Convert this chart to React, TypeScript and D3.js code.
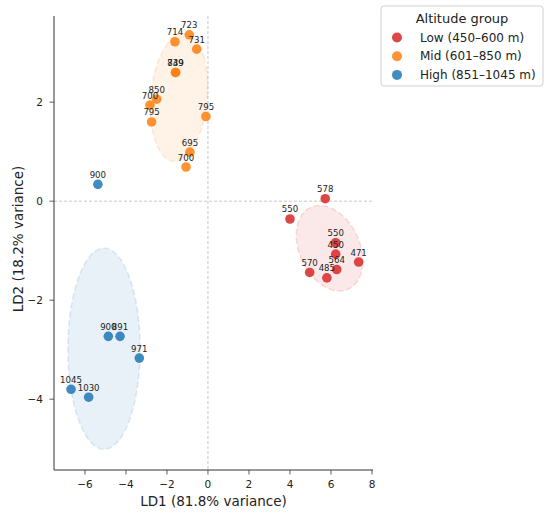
import * as d3 from "d3";

// LDA scores
const lowLD1 = [5.72, 4.0, 6.23, 6.23, 7.35, 6.28, 4.96, 5.8];
const lowLD2 = [0.05, -0.36, -0.84, -1.07, -1.23, -1.38, -1.44, -1.55];
const lowAlt = ["578", "550", "550", "450", "471", "564", "570", "485"];

const midLD1 = [-0.91, -1.61, -0.55, -1.58, -1.58, -2.5, -2.83, -2.75, -0.1, -0.88, -1.07];
const midLD2 = [3.36, 3.22, 3.07, 2.6, 2.6, 2.06, 1.94, 1.6, 1.71, 0.99, 0.69];
const midAlt = ["723", "714", "731", "839", "749", "850", "700", "795", "795", "695", "700"];

const highLD1 = [-5.37, -4.86, -4.29, -3.35, -6.68, -5.82];
const highLD2 = [0.34, -2.73, -2.73, -3.17, -3.8, -3.96];
const highAlt = ["900", "900", "891", "971", "1045", "1030"];

const groupNames = ["Low (450–600 m)", "Mid (601–850 m)", "High (851–1045 m)"];
const groupColors = ["#d62728", "#ff7f0e", "#1f77b4"];

// confidence ellipses: centre, semi-axes (data units), angle in degrees
const ellipseCx = [5.93, -1.41, -5.07];
const ellipseCy = [-0.95, 2.1, -2.98];
const ellipseA = [1.65, 1.46, 1.76];
const ellipseB = [0.81, 1.22, 2.03];
const ellipseAngle = [-12, 32, 0];

const xTicks = [-6, -4, -2, 0, 2, 4, 6, 8];
const yTicks = [-4, -2, 0, 2];

const W = 550;
const H = 517;
const m = { left: 54, right: 373, top: 16, bottom: 470 };
const font = "DejaVu Sans, sans-serif";

const fmt = (t: number) => (t < 0 ? `−${-t}` : `${t}`);

const App = () => {
  const x = d3.scaleLinear().domain([-7.51, 8.05]).range([m.left, m.right]);
  const y = d3.scaleLinear().domain([-5.43, 3.74]).range([m.bottom, m.top]);

  const groups = [
    { xs: lowLD1, ys: lowLD2, labels: lowAlt },
    { xs: midLD1, ys: midLD2, labels: midAlt },
    { xs: highLD1, ys: highLD2, labels: highAlt },
  ];

  const line = d3
    .line<[number, number]>()
    .x((d) => x(d[0]))
    .y((d) => y(d[1]))
    .curve(d3.curveLinearClosed);

  const ellipsePath = (i: number) => {
    const phi = (ellipseAngle[i] * Math.PI) / 180;
    const pts: [number, number][] = d3.range(0, 360, 3).map((deg) => {
      const t = (deg * Math.PI) / 180;
      const ax = ellipseA[i] * Math.cos(t);
      const by = ellipseB[i] * Math.sin(t);
      return [
        ellipseCx[i] + ax * Math.cos(phi) - by * Math.sin(phi),
        ellipseCy[i] + ax * Math.sin(phi) + by * Math.cos(phi),
      ];
    });
    return line(pts);
  };

  return (
    <svg
      width={W}
      height={H}
      style={{ position: "absolute", left: 0, top: 0, background: "white" }}
      fontFamily={font}
    >
      <defs>
        <clipPath id="plot">
          <rect x={m.left} y={m.top} width={m.right - m.left} height={m.bottom - m.top} />
        </clipPath>
      </defs>

      {/* zero reference lines */}
      <line x1={x(0)} x2={x(0)} y1={m.top} y2={m.bottom} stroke="#b8b8b8" strokeWidth={0.8} strokeDasharray="3,2" />
      <line x1={m.left} x2={m.right} y1={y(0)} y2={y(0)} stroke="#b8b8b8" strokeWidth={0.8} strokeDasharray="3,2" />

      {/* ellipses */}
      <g clipPath="url(#plot)">
        {groupColors.map((c, i) => (
          <path
            key={i}
            d={ellipsePath(i) || ""}
            fill={c}
            fillOpacity={0.1}
            stroke={c}
            strokeOpacity={0.15}
            strokeWidth={1.5}
            strokeDasharray="6,3"
          />
        ))}
      </g>

      {/* points */}
      {groups.map((g, gi) =>
        g.xs.map((v, i) => (
          <circle key={`${gi}-${i}`} cx={x(v)} cy={y(g.ys[i])} r={4.8} fill={groupColors[gi]} fillOpacity={0.85} />
        ))
      )}

      {/* altitude labels */}
      {groups.map((g, gi) =>
        g.xs.map((v, i) => (
          <text
            key={`t${gi}-${i}`}
            x={x(v)}
            y={y(g.ys[i]) - 6.5}
            textAnchor="middle"
            fontSize={8.6}
            fill="#222"
          >
            {g.labels[i]}
          </text>
        ))
      )}

      {/* axes */}
      <line x1={m.left} x2={m.left} y1={m.top} y2={m.bottom} stroke="#333" strokeWidth={1} />
      <line x1={m.left} x2={m.right} y1={m.bottom} y2={m.bottom} stroke="#333" strokeWidth={1} />
      {xTicks.map((t) => (
        <g key={`xt${t}`}>
          <line x1={x(t)} x2={x(t)} y1={m.bottom} y2={m.bottom + 4.5} stroke="#333" strokeWidth={0.8} />
          <text x={x(t)} y={m.bottom + 18} textAnchor="middle" fontSize={10.5} fill="#222">
            {fmt(t)}
          </text>
        </g>
      ))}
      {yTicks.map((t) => (
        <g key={`yt${t}`}>
          <line x1={m.left - 4.5} x2={m.left} y1={y(t)} y2={y(t)} stroke="#333" strokeWidth={0.8} />
          <text x={m.left - 11} y={y(t) + 3.8} textAnchor="end" fontSize={10.5} fill="#222">
            {fmt(t)}
          </text>
        </g>
      ))}
      <text x={(m.left + m.right) / 2} y={506} textAnchor="middle" fontSize={13.5} fill="#222">
        LD1 (81.8% variance)
      </text>
      <text
        transform={`translate(23,${(m.top + m.bottom) / 2 - 4}) rotate(-90)`}
        textAnchor="middle"
        fontSize={13.5}
        fill="#222"
      >
        LD2 (18.2% variance)
      </text>

      {/* legend */}
      <rect x={381} y={6} width={162} height={80} rx={3} fill="white" stroke="#d0d0d0" strokeWidth={1} />
      <text x={462} y={22.5} textAnchor="middle" fontSize={13} fill="#222">
        Altitude group
      </text>
      {groupNames.map((n, i) => (
        <g key={n}>
          <circle cx={397} cy={37.5 + i * 18.7} r={5} fill={groupColors[i]} fillOpacity={0.85} />
          <text x={420} y={41.5 + i * 18.7} fontSize={12} fill="#222">
            {n}
          </text>
        </g>
      ))}
    </svg>
  );
};

export default App;
